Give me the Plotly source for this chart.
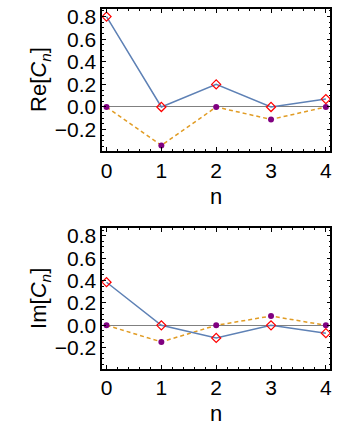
import plotly.graph_objects as go
from plotly.subplots import make_subplots

n = [0, 1, 2, 3, 4]

# Re[C_n]
re_blue = [0.80, 0.00, 0.20, 0.00, 0.07]
re_orange = [0.00, -0.34, 0.00, -0.11, 0.00]
# Im[C_n]
im_blue = [0.385, 0.00, -0.113, 0.00, -0.07]
im_orange = [0.00, -0.148, 0.00, 0.083, 0.00]

y_ticks = [-0.2, 0.0, 0.2, 0.4, 0.6, 0.8]

BLUE = '#5E81B5'
ORANGE = '#E19C24'
PURPLE = '#800080'
RED = '#FF0000'
FONT = dict(family='Liberation Sans, Arial', size=21, color='black')
LABEL_FONT = dict(family='Liberation Sans, Arial', size=22, color='black')

fig = make_subplots(rows=2, cols=1)

for row, blue, orange in [(1, re_blue, re_orange), (2, im_blue, im_orange)]:
    fig.add_trace(go.Scatter(
        x=n, y=orange, mode='lines',
        line=dict(color=ORANGE, width=1.5, dash='4px,3px'),
        showlegend=False), row=row, col=1)
    fig.add_trace(go.Scatter(
        x=n, y=blue, mode='lines',
        line=dict(color=BLUE, width=1.5),
        showlegend=False), row=row, col=1)
    fig.add_trace(go.Scatter(
        x=n, y=orange, mode='markers',
        marker=dict(color=PURPLE, size=6, symbol='circle'),
        showlegend=False), row=row, col=1)
    fig.add_trace(go.Scatter(
        x=n, y=blue, mode='markers',
        marker=dict(color=RED, size=7, symbol='diamond-open',
                    line=dict(color=RED, width=1.2)),
        showlegend=False), row=row, col=1)

axis_common = dict(
    showline=True, linecolor='black', linewidth=1.5, mirror='ticks',
    ticks='inside', ticklen=4, tickwidth=1, tickcolor='black',
    showgrid=False, tickfont=FONT,
)

fig.update_xaxes(
    range=[-0.08, 4.08], tickvals=n, zeroline=False,
    minor=dict(dtick=0.2, ticks='inside', ticklen=2, tickcolor='black', showgrid=False),
    **axis_common)
fig.update_yaxes(
    range=[-0.386, 0.868], tickvals=y_ticks, tickformat='.1f',
    zeroline=True, zerolinecolor='#808080', zerolinewidth=1,
    minor=dict(dtick=0.05, ticks='inside', ticklen=2, tickcolor='black', showgrid=False),
    **axis_common)


def label(text, x, y, angle=0):
    return dict(text=text, xref='paper', yref='paper', x=x / 361, y=1 - y / 426,
                textangle=angle, showarrow=False, font=LABEL_FONT,
                xanchor='center', yanchor='middle')


fig.update_layout(
    width=361, height=426,
    margin=dict(l=0, r=0, t=0, b=0),
    plot_bgcolor='white', paper_bgcolor='white',
    font=FONT,
    xaxis=dict(domain=[0.2825, 0.9197], anchor='y'),
    xaxis2=dict(domain=[0.2825, 0.9197], anchor='y2'),
    yaxis=dict(domain=[0.6526, 0.9883]),
    yaxis2=dict(domain=[0.1362, 0.4688]),
    annotations=[
        label('Re[<i>C</i><sub><i>n</i></sub>]', 40, 76, -90),
        label('Im[<i>C</i><sub><i>n</i></sub>]', 40, 297, -90),
        label('n', 217, 194),
        label('n', 217, 413),
    ],
)

fig.write_html("out.html", config={'displayModeBar': False},
               post_script="document.body.style.margin='0';")
